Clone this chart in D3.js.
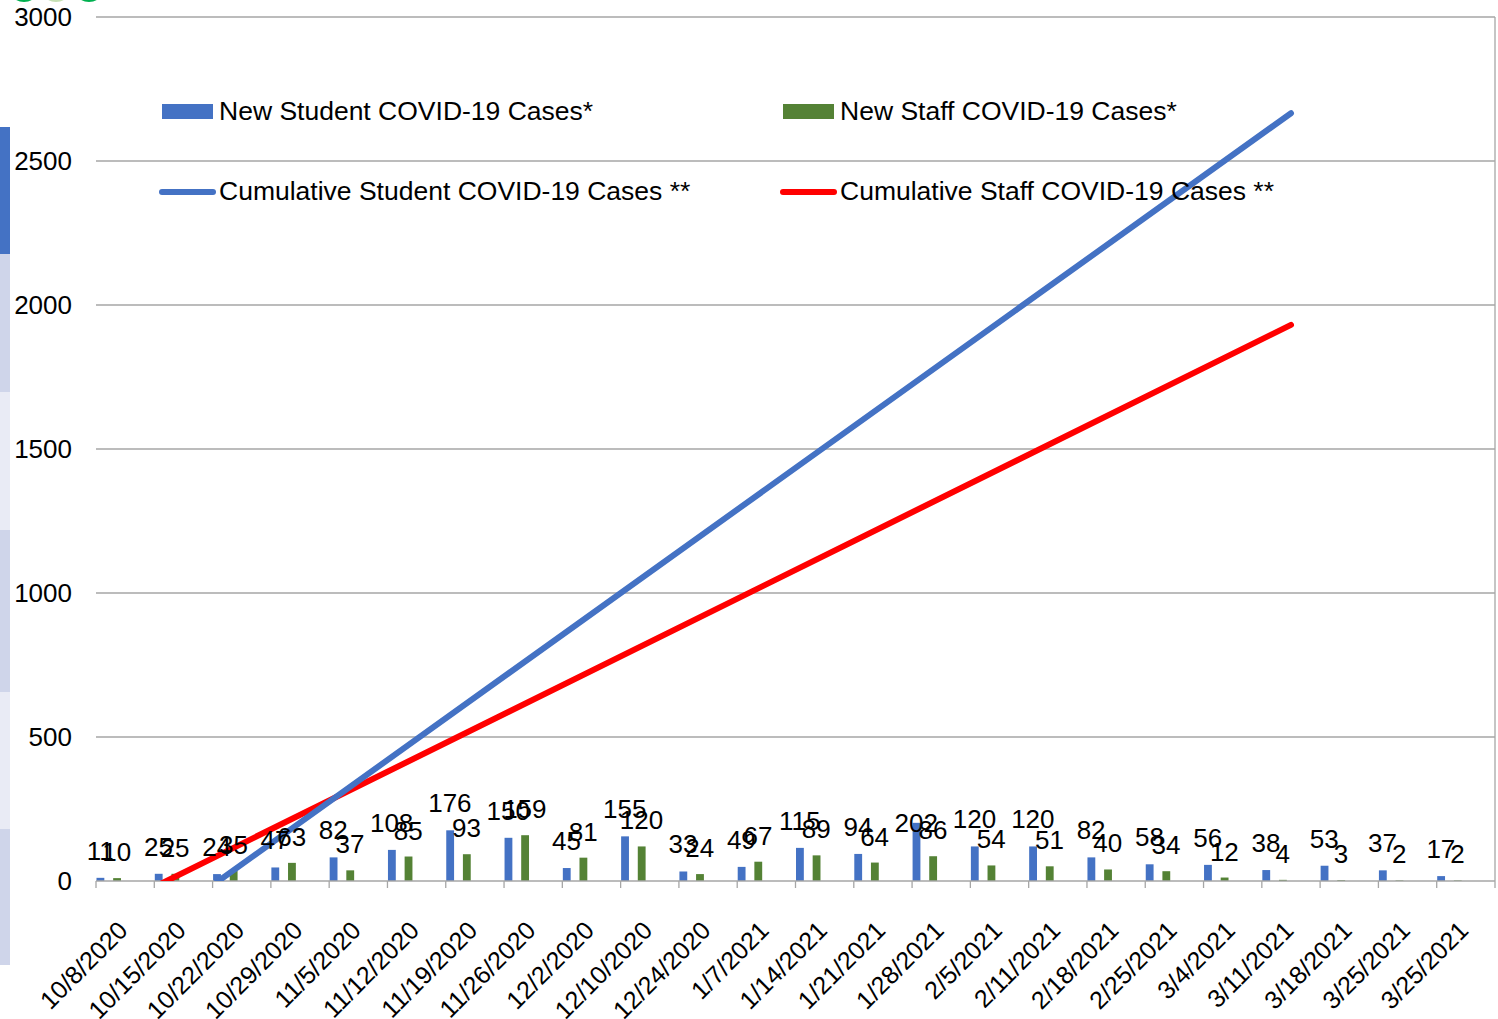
<!DOCTYPE html>
<html>
<head>
<meta charset="utf-8">
<script src="https://cdn.jsdelivr.net/npm/d3@7"></script>
<style>
  body { margin: 0; background: #fff; }
  svg { display: block; font-family: "Liberation Sans", Arial, sans-serif; }
</style>
</head>
<body>
<svg width="1498" height="1019"></svg>
<script>
// weekly report dates (last one repeats in the source)
var dates = ["10/8/2020", "10/15/2020", "10/22/2020", "10/29/2020", "11/5/2020", "11/12/2020",
    "11/19/2020", "11/26/2020", "12/2/2020", "12/10/2020", "12/24/2020", "1/7/2021",
    "1/14/2021", "1/21/2021", "1/28/2021", "2/5/2021", "2/11/2021", "2/18/2021",
    "2/25/2021", "3/4/2021", "3/11/2021", "3/18/2021", "3/25/2021", "3/25/2021"];
var newStudent = [11, 25, 24, 47, 82, 108, 176, 150, 45, 155, 33, 49, 115, 94, 202, 120, 120, 82, 58, 56, 38, 53, 37, 17];
var newStaff = [10, 25, 35, 63, 37, 85, 93, 159, 81, 120, 24, 67, 89, 64, 86, 54, 51, 40, 34, 12, 4, 3, 2, 2];
// cumulative lines are drawn straight, read at their two ends (index into dates)
var cumIdx = [0, 20];
var cumStudent = [-232, 2666];
var cumStaff = [-71, 1931];
var yTicks = [0, 500, 1000, 1500, 2000, 2500, 3000];

function draw() {
    var blue = "#4472C4", green = "#548235", red = "#FF0000", grid = "#A6A6A6";

    var svg = d3.select("svg");
    var pLeft = 96, pRight = 1495, pTop = 17, pBottom = 881;

    var x = d3.scaleBand().domain(d3.range(dates.length)).range([pLeft, pRight]).padding(0);
    var slot = d3.scaleBand().domain(d3.range(7)).range([0, x.bandwidth()]);
    var y = d3.scaleLinear().domain([0, 3000]).range([pBottom, pTop]);

    // slide decoration on the left edge and top corner
    var strip = [[127, 254, blue], [254, 392, "#CFD5EA"], [392, 530, "#E9EBF5"],
        [530, 692, "#CFD5EA"], [692, 829, "#E9EBF5"], [829, 965, "#CFD5EA"]];
    svg.append("g").selectAll("rect").data(strip).enter().append("rect")
        .attr("x", 0).attr("width", 10)
        .attr("y", function (d) { return d[0]; })
        .attr("height", function (d) { return d[1] - d[0]; })
        .attr("fill", function (d) { return d[2]; });
    svg.append("g").selectAll("circle").data([[56, "#C5E0B4"], [24, "#00B050"], [89, "#00B050"]])
        .enter().append("circle")
        .attr("cx", function (d) { return d[0]; }).attr("cy", -14).attr("r", 16)
        .attr("fill", function (d) { return d[1]; });

    // gridlines
    svg.append("g").selectAll("line").data(yTicks.slice(1)).enter().append("line")
        .attr("x1", pLeft).attr("x2", pRight)
        .attr("y1", function (d) { return y(d); }).attr("y2", function (d) { return y(d); })
        .attr("stroke", grid).attr("stroke-width", 1.3);
    svg.append("line").attr("x1", pRight).attr("x2", pRight).attr("y1", pTop).attr("y2", pBottom + 7)
        .attr("stroke", grid).attr("stroke-width", 1.3);

    // y axis labels
    svg.append("g").selectAll("text").data(yTicks).enter().append("text")
        .attr("x", 72).attr("y", function (d) { return y(d) + 9; })
        .attr("text-anchor", "end").attr("font-size", 26).attr("fill", "#000")
        .text(function (d) { return d; });

    // bars
    var bars = svg.append("g");
    bars.selectAll("rect.st").data(newStudent).enter().append("rect")
        .attr("x", function (d, i) { return x(i) + slot(0) + 0.5; })
        .attr("width", slot.bandwidth() - 0.5)
        .attr("y", function (d) { return y(d); })
        .attr("height", function (d) { return y(0) - y(d); })
        .attr("fill", blue);
    bars.selectAll("rect.sf").data(newStaff).enter().append("rect")
        .attr("x", function (d, i) { return x(i) + slot(2) + 0.5; })
        .attr("width", slot.bandwidth() - 0.5)
        .attr("y", function (d) { return y(d); })
        .attr("height", function (d) { return y(0) - y(d); })
        .attr("fill", green);

    // x axis
    svg.append("line").attr("x1", pLeft).attr("x2", pRight).attr("y1", pBottom).attr("y2", pBottom)
        .attr("stroke", grid).attr("stroke-width", 1.3);
    svg.append("g").selectAll("line").data(d3.range(dates.length)).enter().append("line")
        .attr("x1", function (i) { return x(i); }).attr("x2", function (i) { return x(i); })
        .attr("y1", pBottom).attr("y2", pBottom + 7)
        .attr("stroke", grid).attr("stroke-width", 1.3);
    svg.append("g").selectAll("text").data(dates).enter().append("text")
        .attr("transform", function (d, i) {
            return "translate(" + (x(i) + x.bandwidth() / 2 + 4) + "," + 932 + ") rotate(-45)";
        })
        .attr("text-anchor", "end").attr("font-size", 25).attr("fill", "#000")
        .text(function (d) { return d; });

    // cumulative lines, clipped to the plot area
    svg.append("clipPath").attr("id", "clip").append("rect")
        .attr("x", pLeft).attr("y", 0).attr("width", pRight - pLeft + 10).attr("height", pBottom);
    var line = d3.line()
        .x(function (d) { return x(d[0]) + x.bandwidth() / 2; })
        .y(function (d) { return y(d[1]); });
    var lines = svg.append("g").attr("clip-path", "url(#clip)");
    lines.append("path").datum(d3.zip(cumIdx, cumStaff)).attr("d", line)
        .attr("fill", "none").attr("stroke", red).attr("stroke-width", 6).attr("stroke-linecap", "round");
    lines.append("path").datum(d3.zip(cumIdx, cumStudent)).attr("d", line)
        .attr("fill", "none").attr("stroke", blue).attr("stroke-width", 6).attr("stroke-linecap", "round");

    // data labels (the 1/28 student label sits lower in the source, over its bar)
    var labels = svg.append("g").attr("font-size", 26).attr("fill", "#000").attr("text-anchor", "middle");
    labels.selectAll("text.st").data(newStudent).enter().append("text")
        .attr("x", function (d, i) { return x(i) + slot(0) + slot.bandwidth() / 2; })
        .attr("y", function (d, i) { return y(d) - (i === 14 ? -9 : 18); })
        .text(function (d) { return d; });
    labels.selectAll("text.sf").data(newStaff).enter().append("text")
        .attr("x", function (d, i) { return x(i) + slot(2) + slot.bandwidth() / 2; })
        .attr("y", function (d) { return y(d) - 17; })
        .text(function (d) { return d; });

    // legend
    var legend = [
        {name: "New Student COVID-19 Cases*", kind: "bar", color: blue, x: 162, y: 112},
        {name: "New Staff COVID-19 Cases*", kind: "bar", color: green, x: 783, y: 112},
        {name: "Cumulative Student COVID-19 Cases **", kind: "line", color: blue, x: 162, y: 192},
        {name: "Cumulative Staff COVID-19 Cases **", kind: "line", color: red, x: 783, y: 192}
    ];
    var lg = svg.append("g").selectAll("g").data(legend).enter().append("g")
        .attr("transform", function (d) { return "translate(" + d.x + "," + d.y + ")"; });
    lg.filter(function (d) { return d.kind === "bar"; }).append("rect")
        .attr("x", 0).attr("y", -8).attr("width", 51).attr("height", 15)
        .attr("fill", function (d) { return d.color; });
    lg.filter(function (d) { return d.kind === "line"; }).append("line")
        .attr("x1", 0).attr("x2", 51).attr("y1", 0).attr("y2", 0)
        .attr("stroke", function (d) { return d.color; }).attr("stroke-width", 6)
        .attr("stroke-linecap", "round");
    lg.append("text").attr("x", 57).attr("y", 8).attr("font-size", 26.5).attr("fill", "#000")
        .text(function (d) { return d.name; });
}
draw();
</script>
</body>
</html>
